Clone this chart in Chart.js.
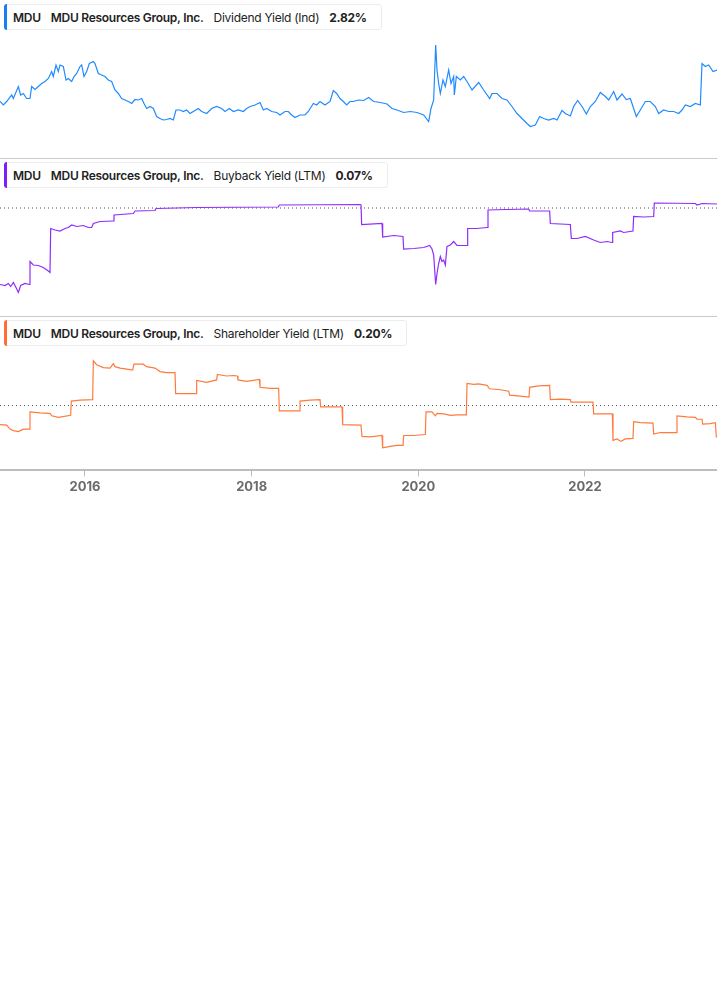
<!DOCTYPE html>
<html>
<head>
<meta charset="utf-8">
<title>MDU yields</title>
<script src="https://cdn.jsdelivr.net/npm/chart.js@4.4.0/dist/chart.umd.min.js"></script>
<style>
  body { margin: 0; background: #fff; font-family: Inter, "Noto Sans", sans-serif; }
  #wrap { position: relative; width: 717px; height: 1005px; overflow: hidden; }
  .panel { position: absolute; left: 0; width: 717px; }
  .rule { position: absolute; left: 0; width: 717px; height: 1px; background: #cacaca; }
  .legend {
    position: absolute; left: 4px; height: 24px;
    display: flex; align-items: center;
    padding: 0 4px 0 8px;
    border: 1px solid #ececec; border-radius: 3px; background: #fff;
    font-size: 12px; letter-spacing: -0.27px; color: #222; white-space: nowrap;
  }
  .legend::before {
    content: ''; position: absolute; left: -1px; top: -1px; bottom: -1px; width: 3px;
    border-radius: 3px 0 0 3px; background: var(--c);
  }
  .legend span { margin-right: 10px; }
  .legend .tk { font-weight: 600; }
  .legend .nm { font-weight: 600; }
  .legend .ms { font-weight: 400; }
  .legend .vl { font-weight: 700; }
</style>
</head>
<body>
<div id="wrap">
  <div class="panel" style="top:0;height:158px"><canvas id="c1" width="717" height="158"></canvas></div>
  <div class="panel" style="top:158px;height:158px"><canvas id="c2" width="717" height="158"></canvas></div>
  <div class="panel" style="top:316px;height:182px"><canvas id="c3" width="717" height="182"></canvas></div>
  <div class="rule" style="top:158px"></div>
  <div class="rule" style="top:316px"></div>
  <div id="legends"></div>
</div>
<script>
// x axis range (decimal years) and tick labels
const xMin = 2014.98;
const xMax = 2023.584;
const tickYears = [2016, 2018, 2020, 2022];

// Dividend Yield (Ind), %
const dividendYears = [2014.980, 2015.020, 2015.060, 2015.120, 2015.140, 2015.200, 2015.228, 2015.260, 2015.300, 2015.340,
  2015.360, 2015.400, 2015.440, 2015.480, 2015.520, 2015.560, 2015.600, 2015.620, 2015.652, 2015.680,
  2015.700, 2015.740, 2015.772, 2015.800, 2015.840, 2015.868, 2015.900, 2015.940, 2015.960, 2015.988,
  2016.020, 2016.052, 2016.100, 2016.120, 2016.160, 2016.200, 2016.240, 2016.280, 2016.320, 2016.360,
  2016.400, 2016.440, 2016.480, 2016.520, 2016.560, 2016.600, 2016.640, 2016.680, 2016.708, 2016.740,
  2016.780, 2016.820, 2016.860, 2016.900, 2016.940, 2016.980, 2017.020, 2017.060, 2017.092, 2017.140,
  2017.180, 2017.220, 2017.260, 2017.300, 2017.360, 2017.400, 2017.460, 2017.520, 2017.580, 2017.640,
  2017.680, 2017.732, 2017.780, 2017.840, 2017.900, 2017.940, 2017.980, 2018.040, 2018.100, 2018.140,
  2018.180, 2018.240, 2018.300, 2018.340, 2018.400, 2018.440, 2018.480, 2018.520, 2018.580, 2018.640,
  2018.680, 2018.740, 2018.780, 2018.820, 2018.880, 2018.940, 2018.980, 2019.020, 2019.060, 2019.100,
  2019.140, 2019.180, 2019.220, 2019.280, 2019.344, 2019.404, 2019.464, 2019.544, 2019.624, 2019.684,
  2019.744, 2019.824, 2019.904, 2019.984, 2020.064, 2020.124, 2020.152, 2020.184, 2020.208, 2020.224,
  2020.244, 2020.264, 2020.296, 2020.324, 2020.364, 2020.392, 2020.424, 2020.432, 2020.456, 2020.504,
  2020.544, 2020.584, 2020.644, 2020.724, 2020.784, 2020.856, 2020.884, 2020.944, 2021.004, 2021.064,
  2021.124, 2021.184, 2021.244, 2021.304, 2021.344, 2021.404, 2021.456, 2021.504, 2021.564, 2021.624,
  2021.664, 2021.724, 2021.764, 2021.824, 2021.864, 2021.912, 2021.964, 2022.016, 2022.064, 2022.124,
  2022.184, 2022.244, 2022.284, 2022.344, 2022.384, 2022.444, 2022.496, 2022.544, 2022.584, 2022.616,
  2022.664, 2022.724, 2022.784, 2022.844, 2022.884, 2022.944, 2023.004, 2023.064, 2023.124, 2023.164,
  2023.204, 2023.264, 2023.324, 2023.384, 2023.404, 2023.444, 2023.484, 2023.536, 2023.584];
const dividendYield = [3.27, 3.20, 3.27, 3.40, 3.33, 3.57, 3.40, 3.43, 3.33, 3.33,
  3.57, 3.51, 3.57, 3.63, 3.67, 3.73, 3.87, 3.77, 4.00, 3.87,
  4.00, 3.97, 3.70, 3.73, 3.67, 3.77, 3.83, 3.97, 4.00, 3.77,
  3.87, 4.03, 4.07, 4.03, 3.83, 3.80, 3.77, 3.70, 3.67, 3.50,
  3.43, 3.33, 3.30, 3.27, 3.23, 3.31, 3.30, 3.33, 3.23, 3.13,
  3.17, 3.13, 2.97, 2.93, 2.90, 2.91, 2.93, 2.90, 3.10, 3.10,
  3.07, 3.10, 3.03, 3.07, 3.13, 3.07, 3.03, 3.13, 3.17, 3.13,
  3.07, 3.13, 3.07, 3.10, 3.07, 3.13, 3.17, 3.20, 3.25, 3.10,
  3.13, 3.07, 3.05, 3.00, 3.07, 3.07, 3.00, 2.95, 3.00, 3.00,
  3.07, 3.23, 3.20, 3.27, 3.20, 3.27, 3.49, 3.43, 3.33, 3.27,
  3.20, 3.27, 3.27, 3.30, 3.29, 3.35, 3.27, 3.25, 3.22, 3.13,
  3.10, 3.05, 3.07, 3.05, 3.00, 2.87, 3.13, 3.30, 4.40, 3.90,
  3.63, 3.43, 3.70, 3.57, 3.90, 3.63, 3.77, 3.40, 3.77, 3.70,
  3.77, 3.67, 3.50, 3.65, 3.50, 3.33, 3.43, 3.43, 3.33, 3.30,
  3.17, 3.03, 2.93, 2.83, 2.77, 2.80, 2.97, 2.93, 2.90, 2.93,
  2.90, 3.09, 3.03, 2.98, 3.17, 3.29, 3.17, 3.02, 3.17, 3.27,
  3.45, 3.37, 3.30, 3.47, 3.30, 3.42, 3.31, 3.33, 3.13, 2.97,
  3.10, 3.27, 3.27, 3.17, 3.03, 3.10, 3.07, 3.07, 3.03, 3.10,
  3.20, 3.17, 3.23, 3.20, 4.03, 3.97, 4.00, 3.87, 3.90];

// Buyback Yield (LTM), %
const buybackYears = [2014.980, 2015.040, 2015.080, 2015.108, 2015.140, 2015.172, 2015.200, 2015.228, 2015.280, 2015.332,
  2015.340, 2015.380, 2015.440, 2015.500, 2015.560, 2015.580, 2015.588, 2015.640, 2015.700, 2015.760,
  2015.800, 2015.840, 2015.900, 2015.980, 2016.040, 2016.080, 2016.100, 2016.180, 2016.340, 2016.348,
  2016.580, 2016.600, 2016.840, 2016.852, 2017.340, 2018.320, 2018.332, 2019.300, 2019.312, 2019.320,
  2019.564, 2019.572, 2019.704, 2019.816, 2019.824, 2019.944, 2020.064, 2020.136, 2020.164, 2020.184,
  2020.208, 2020.224, 2020.244, 2020.264, 2020.284, 2020.304, 2020.324, 2020.344, 2020.384, 2020.424,
  2020.464, 2020.544, 2020.584, 2020.592, 2020.704, 2020.824, 2020.836, 2021.064, 2021.324, 2021.336,
  2021.576, 2021.584, 2021.824, 2021.836, 2021.904, 2022.004, 2022.104, 2022.184, 2022.264, 2022.324,
  2022.332, 2022.424, 2022.464, 2022.576, 2022.584, 2022.704, 2022.824, 2022.832, 2023.324, 2023.344,
  2023.404, 2023.584];
const buybackYield = [-1.53, -1.55, -1.51, -1.57, -1.49, -1.59, -1.69, -1.55, -1.51, -1.53,
  -1.07, -1.14, -1.15, -1.19, -1.26, -1.29, -0.41, -0.44, -0.46, -0.41,
  -0.39, -0.34, -0.37, -0.35, -0.39, -0.39, -0.31, -0.27, -0.26, -0.14,
  -0.11, -0.06, -0.05, -0.01, 0.01, 0.02, 0.06, 0.07, 0.06, -0.33,
  -0.31, -0.58, -0.55, -0.57, -0.82, -0.81, -0.79, -0.75, -0.82, -0.94,
  -1.53, -1.31, -1.11, -0.97, -1.07, -1.04, -1.14, -0.77, -0.74, -0.67,
  -0.75, -0.75, -0.75, -0.41, -0.41, -0.39, -0.04, -0.03, -0.02, -0.06,
  -0.06, -0.31, -0.33, -0.61, -0.61, -0.57, -0.64, -0.69, -0.67, -0.69,
  -0.49, -0.46, -0.49, -0.46, -0.17, -0.18, -0.17, 0.10, 0.09, 0.06,
  0.09, 0.08];

// Shareholder Yield (LTM), %
const shareholderYears = [2014.980, 2015.060, 2015.100, 2015.140, 2015.200, 2015.260, 2015.332, 2015.340, 2015.460, 2015.580,
  2015.600, 2015.680, 2015.828, 2015.836, 2015.940, 2016.092, 2016.100, 2016.140, 2016.220, 2016.300,
  2016.340, 2016.360, 2016.420, 2016.500, 2016.572, 2016.588, 2016.700, 2016.740, 2016.840, 2016.900,
  2016.980, 2017.080, 2017.088, 2017.220, 2017.332, 2017.340, 2017.460, 2017.580, 2017.588, 2017.700,
  2017.780, 2017.828, 2017.836, 2017.940, 2018.092, 2018.100, 2018.220, 2018.324, 2018.332, 2018.460,
  2018.572, 2018.580, 2018.700, 2018.820, 2018.828, 2018.980, 2019.084, 2019.092, 2019.300, 2019.312,
  2019.324, 2019.424, 2019.564, 2019.572, 2019.664, 2019.744, 2019.816, 2019.824, 2019.944, 2020.084,
  2020.092, 2020.164, 2020.204, 2020.224, 2020.304, 2020.384, 2020.464, 2020.576, 2020.584, 2020.664,
  2020.724, 2020.824, 2020.856, 2020.984, 2021.084, 2021.096, 2021.224, 2021.328, 2021.336, 2021.444,
  2021.576, 2021.584, 2021.704, 2021.824, 2021.832, 2022.096, 2022.104, 2022.224, 2022.328, 2022.336,
  2022.384, 2022.432, 2022.484, 2022.576, 2022.584, 2022.664, 2022.816, 2022.824, 2022.904, 2023.096,
  2023.104, 2023.224, 2023.324, 2023.344, 2023.404, 2023.412, 2023.504, 2023.564, 2023.576, 2023.584];
const shareholderYield = [-0.39, -0.40, -0.48, -0.51, -0.53, -0.48, -0.48, -0.13, -0.15, -0.16,
  -0.21, -0.24, -0.20, 0.09, 0.11, 0.12, 0.91, 0.83, 0.77, 0.76,
  0.85, 0.79, 0.76, 0.74, 0.72, 0.84, 0.84, 0.79, 0.76, 0.69,
  0.67, 0.67, 0.24, 0.24, 0.24, 0.51, 0.47, 0.52, 0.63, 0.60,
  0.61, 0.60, 0.52, 0.49, 0.53, 0.37, 0.35, 0.35, -0.11, -0.11,
  -0.11, 0.09, 0.11, 0.12, -0.03, -0.03, -0.03, -0.39, -0.40, -0.40,
  -0.63, -0.64, -0.61, -0.86, -0.83, -0.81, -0.81, -0.61, -0.61, -0.59,
  -0.13, -0.13, -0.21, -0.16, -0.17, -0.20, -0.19, -0.19, 0.45, 0.43,
  0.44, 0.41, 0.34, 0.32, 0.29, 0.21, 0.19, 0.17, 0.37, 0.40,
  0.41, 0.12, 0.13, 0.12, 0.07, 0.07, -0.17, -0.17, -0.17, -0.71,
  -0.68, -0.73, -0.68, -0.67, -0.33, -0.35, -0.36, -0.58, -0.55, -0.55,
  -0.21, -0.23, -0.24, -0.28, -0.28, -0.38, -0.37, -0.35, -0.64, -0.64];

// legend texts
const ticker = 'MDU';
const company = 'MDU Resources Group, Inc.';
const metricNames = ['Dividend Yield (Ind)', 'Buyback Yield (LTM)', 'Shareholder Yield (LTM)'];
const metricValues = ['2.82%', '0.07%', '0.20%'];
const seriesColors = ['#1f8bff', '#8f2cff', '#ff7a3d'];
const legendColors = ['#1a7ef2', '#7d1dff', '#ff6f33'];

const legendTops = [4, 162, 320];
const legendsEl = document.getElementById('legends');
metricNames.forEach((name, i) => {
  const d = document.createElement('div');
  d.className = 'legend';
  d.style.top = legendTops[i] + 'px';
  d.style.setProperty('--c', legendColors[i]);
  d.innerHTML = '<span class="tk">' + ticker + '</span><span class="nm">' + company +
    '</span><span class="ms">' + name + '</span><span class="vl">' + metricValues[i] + '</span>';
  legendsEl.appendChild(d);
});

function toPoints(xs, ys) {
  return xs.map((x, i) => ({ x: x, y: ys[i] }));
}

function makeChart(id, xs, ys, color, yMin, yMax, zeroLine, showAxis) {
  const datasets = [{
    data: toPoints(xs, ys),
    borderColor: color,
    borderWidth: 1.2,
    pointRadius: 0,
    tension: 0,
    order: 0
  }];
  if (zeroLine) {
    datasets.push({
      data: [{ x: xMin, y: 0 }, { x: xMax, y: 0 }],
      borderColor: '#555',
      borderWidth: 1,
      borderDash: [1, 3],
      pointRadius: 0,
      order: 1
    });
  }
  const xScale = {
    type: 'linear',
    min: xMin,
    max: xMax,
    display: showAxis
  };
  if (showAxis) {
    xScale.afterBuildTicks = scale => { scale.ticks = tickYears.map(v => ({ value: v })); };
    xScale.grid = { drawOnChartArea: false, drawTicks: true, tickLength: 6, color: '#bdbdbd', lineWidth: 1 };
    xScale.border = { display: true, color: '#bdbdbd', width: 2 };
    xScale.ticks = {
      color: '#6b6b6b',
      padding: 3,
      maxRotation: 0,
      autoSkip: false,
      font: { family: 'Inter', size: 13, weight: 'bold' },
      callback: v => String(v)
    };
  }
  return new Chart(document.getElementById(id), {
    type: 'line',
    data: { datasets: datasets },
    options: {
      responsive: false,
      animation: false,
      layout: { padding: 0 },
      plugins: { legend: { display: false }, tooltip: { enabled: false } },
      scales: {
        x: xScale,
        y: { display: false, min: yMin, max: yMax }
      }
    }
  });
}

makeChart('c1', dividendYears, dividendYield, seriesColors[0], 2.14, 5.3, false, false);
makeChart('c2', buybackYears, buybackYield, seriesColors[1], -2.16, 1.0, true, false);
makeChart('c3', shareholderYears, shareholderYield, seriesColors[2], -1.32, 1.82, true, true);
</script>
</body>
</html>
